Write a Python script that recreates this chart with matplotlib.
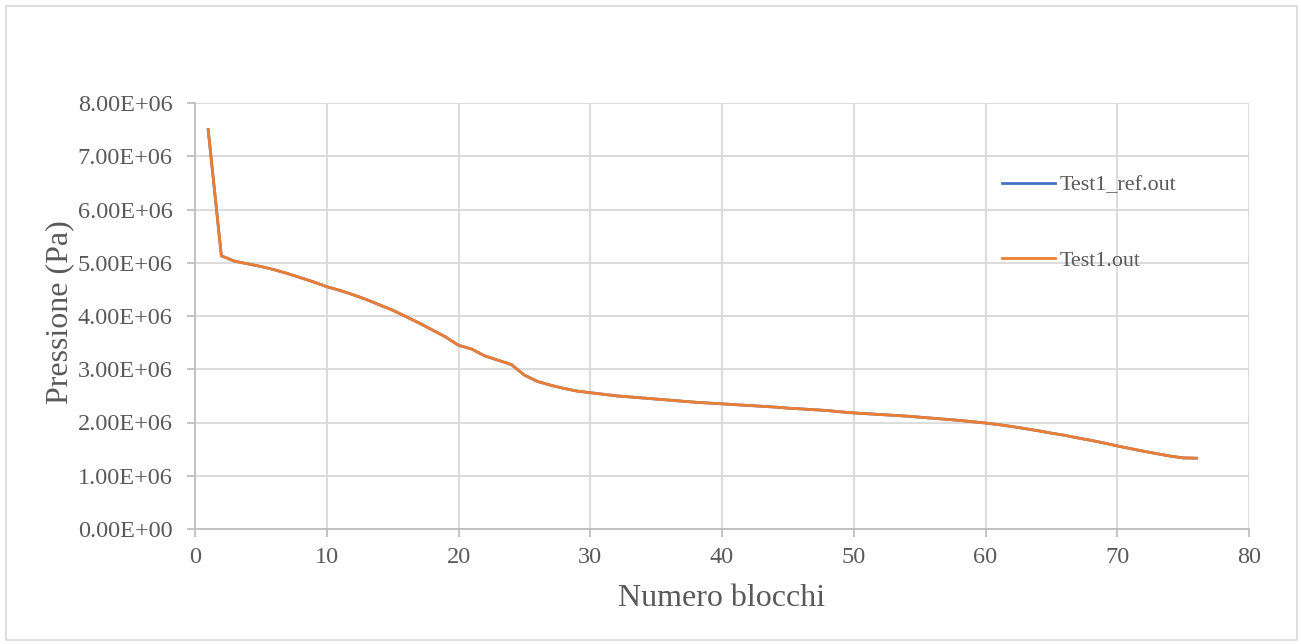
import matplotlib.pyplot as plt
from matplotlib.patches import Rectangle
from matplotlib.ticker import FuncFormatter, MultipleLocator

# numero blocchi 1..76
blocchi = list(range(1, 77))
# pressione (Pa)
pressione = [7.50e6, 5.13e6, 5.03e6, 4.98e6, 4.93e6, 4.87e6, 4.80e6, 4.72e6, 4.64e6, 4.55e6,
             4.48e6, 4.40e6, 4.31e6, 4.21e6, 4.11e6, 3.99e6, 3.87e6, 3.74e6, 3.61e6, 3.45e6,
             3.38e6, 3.25e6, 3.17e6, 3.09e6, 2.89e6, 2.77e6, 2.70e6, 2.64e6, 2.59e6, 2.56e6,
             2.53e6, 2.50e6, 2.48e6, 2.46e6, 2.44e6, 2.42e6, 2.40e6, 2.38e6, 2.365e6, 2.35e6,
             2.335e6, 2.32e6, 2.305e6, 2.29e6, 2.27e6, 2.255e6, 2.24e6, 2.225e6, 2.20e6, 2.18e6,
             2.165e6, 2.15e6, 2.135e6, 2.12e6, 2.10e6, 2.08e6, 2.06e6, 2.04e6, 2.015e6, 1.99e6,
             1.96e6, 1.925e6, 1.885e6, 1.845e6, 1.80e6, 1.76e6, 1.71e6, 1.665e6, 1.615e6, 1.56e6,
             1.51e6, 1.46e6, 1.415e6, 1.37e6, 1.335e6, 1.33e6]
serie = ["Test1_ref.out", "Test1.out"]

grigio = "#595959"
plt.rcParams["font.family"] = ["Liberation Serif", "DejaVu Serif"]

fig = plt.figure(figsize=(13.01, 6.44), dpi=100)
fig.patches.append(Rectangle((6 / 1301, 4 / 644), 1291 / 1301, 634 / 644,
                             transform=fig.transFigure, fill=False,
                             edgecolor="#d9d9d9", lw=1.2))
ax = fig.add_axes([195 / 1301, 115 / 644, 1054 / 1301, 426 / 644])

ax.plot(blocchi, pressione, color="#4472C4", lw=2, label=serie[0])
ax.plot(blocchi, pressione, color="#ED7D31", lw=2, label=serie[1])

ax.set_xlim(0, 80)
ax.set_ylim(0, 8e6)
ax.xaxis.set_major_locator(MultipleLocator(10))
ax.yaxis.set_major_locator(MultipleLocator(1e6))
ax.yaxis.set_major_formatter(FuncFormatter(lambda v, p: "%.2E" % v))
ax.grid(True, color="#d9d9d9", lw=1.3)
ax.set_axisbelow(True)
for s in ["top", "right"]:
    ax.spines[s].set_visible(False)
for s in ["left", "bottom"]:
    ax.spines[s].set_color("#bfbfbf")
    ax.spines[s].set_linewidth(1.3)
ax.tick_params(colors="#bfbfbf", labelcolor=grigio, labelsize=17.5,
               length=6, width=1.3)
ax.tick_params(axis="y", pad=10)
ax.tick_params(axis="x", pad=7)

ax.set_xlabel("Numero blocchi", fontsize=23, color=grigio)
ax.set_ylabel("Pressione (Pa)", fontsize=23, color=grigio)
ax.xaxis.set_label_coords(0.5, -0.128)
ax.yaxis.set_label_coords(-0.115, 0.51)

leg = ax.legend(loc="upper left", bbox_to_anchor=(0.747, 0.877), frameon=False,
                fontsize=15.8, labelspacing=2.5, handlelength=2.4,
                handletextpad=0.23, labelcolor=grigio)

fig.savefig("out.png", dpi=100)
